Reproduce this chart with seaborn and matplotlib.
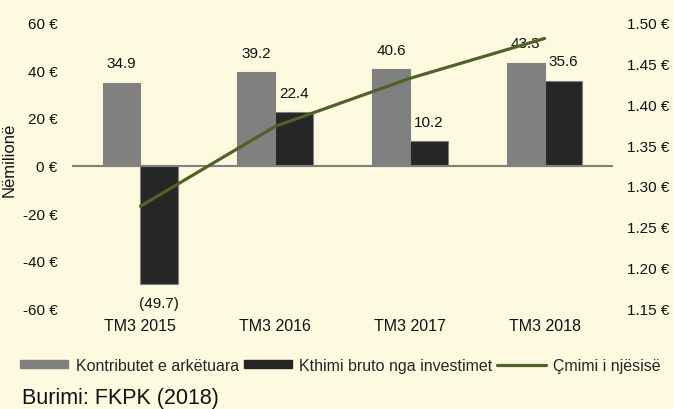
import matplotlib
matplotlib.use("Agg")
import matplotlib.pyplot as plt
import seaborn as sns
import pandas as pd
import numpy as np
from matplotlib.patches import Patch
from matplotlib.lines import Line2D

categories = ["TM3 2015", "TM3 2016", "TM3 2017", "TM3 2018"]
contributions = [34.9, 39.2, 40.6, 43.3]
returns = [-49.7, 22.4, 10.2, 35.6]
unit_price = [1.275, 1.373, 1.432, 1.481]
series_names = ["Kontributet e arkëtuara", "Kthimi bruto nga investimet", "Çmimi i njësisë"]
left_ticks = [-60, -40, -20, 0, 20, 40, 60]
right_ticks = [1.15, 1.20, 1.25, 1.30, 1.35, 1.40, 1.45, 1.50]

BG = "#FEFAE0"
GRAY = "#808080"
BLACK = "#262626"
GREEN = "#4F6228"
TXT = "#111111"

sns.set_theme(style="white")
plt.rcParams["font.family"] = ["Liberation Sans", "DejaVu Sans"]
plt.rcParams["figure.facecolor"] = BG
plt.rcParams["axes.facecolor"] = BG

df = pd.DataFrame({
    "cat": categories * 2,
    "val": contributions + returns,
    "series": [series_names[0]] * 4 + [series_names[1]] * 4,
})

fig = plt.figure(figsize=(6.74, 4.10), dpi=100)
ax = fig.add_axes([0.1083, 0.2463, 0.7997, 0.6952])
ax.set_facecolor(BG)

sns.barplot(data=df, x="cat", y="val", hue="series", order=categories,
            hue_order=series_names[:2], palette=[GRAY, BLACK], width=0.56,
            gap=0, ax=ax, legend=False, edgecolor=GRAY, linewidth=0.8,
            errorbar=None)

def fmt(v):
    return f"({abs(v):.1f})" if v < 0 else f"{v:.1f}"

for cont in ax.containers:
    vals = [b.get_height() for b in cont]
    ax.bar_label(cont, labels=[fmt(v) for v in vals], padding=9, fontsize=11, color=TXT)

ax.set_ylim(-60, 60)
ax.set_xlim(-0.5, 3.5)
ax.set_yticks(left_ticks)
ax.set_yticklabels([f"{t} €" for t in left_ticks])
ax.tick_params(axis="y", length=0, pad=11, labelsize=11, colors=TXT)
for s in ["top", "right", "left"]:
    ax.spines[s].set_visible(False)
ax.spines["bottom"].set_position(("data", 0))
ax.spines["bottom"].set_color(GRAY)
ax.spines["bottom"].set_linewidth(1.5)
ax.set_xticks(np.arange(len(categories)))
ax.set_xticklabels([])
ax.tick_params(axis="x", which="major", length=0)
ax.set_xticks(np.arange(len(categories) + 1) - 0.5, minor=True)
ax.tick_params(axis="x", which="minor", length=3, width=1, color=GRAY, direction="out")
ax.set_xlabel("")
ax.set_ylabel("Nëmilionë", fontsize=12, color=TXT)
ax.yaxis.set_label_coords(-0.105, 0.525)

sec = ax.secondary_xaxis("bottom")
sec.set_xticks(np.arange(len(categories)))
sec.set_xticklabels(categories)
sec.tick_params(length=0, pad=7, labelsize=11.5, colors=TXT)
sec.spines["bottom"].set_visible(False)

ax2 = ax.twinx()
line_df = pd.DataFrame({"x": np.arange(len(categories)), "price": unit_price})
sns.lineplot(data=line_df, x="x", y="price", color=GREEN, linewidth=2.3, ax=ax2)
ax2.set_ylim(1.15, 1.50)
ax2.set_yticks(right_ticks)
ax2.set_yticklabels([f"{t:.2f} €" for t in right_ticks])
ax2.tick_params(axis="y", length=0, pad=11, labelsize=11, colors=TXT)
ax2.set_ylabel("")
for s in ["top", "right", "left", "bottom"]:
    ax2.spines[s].set_visible(False)
ax2.set_xlim(-0.5, 3.5)

handles = [Patch(facecolor=GRAY, edgecolor=GRAY),
           Patch(facecolor=BLACK, edgecolor=BLACK),
           Line2D([0], [0], color=GREEN, linewidth=2.3)]
fig.legend(handles, series_names, loc="center", bbox_to_anchor=(0.505, 0.107), ncol=3,
           frameon=False, fontsize=11.5, handlelength=3.05, handleheight=0.4,
           handletextpad=0.45, columnspacing=0.3, borderpad=0, borderaxespad=0)

fig.text(0.032, 0.015, "Burimi: FKPK (2018)", fontsize=15.5, color=TXT, va="baseline")

fig.savefig("out.png", dpi=100, facecolor=BG)
